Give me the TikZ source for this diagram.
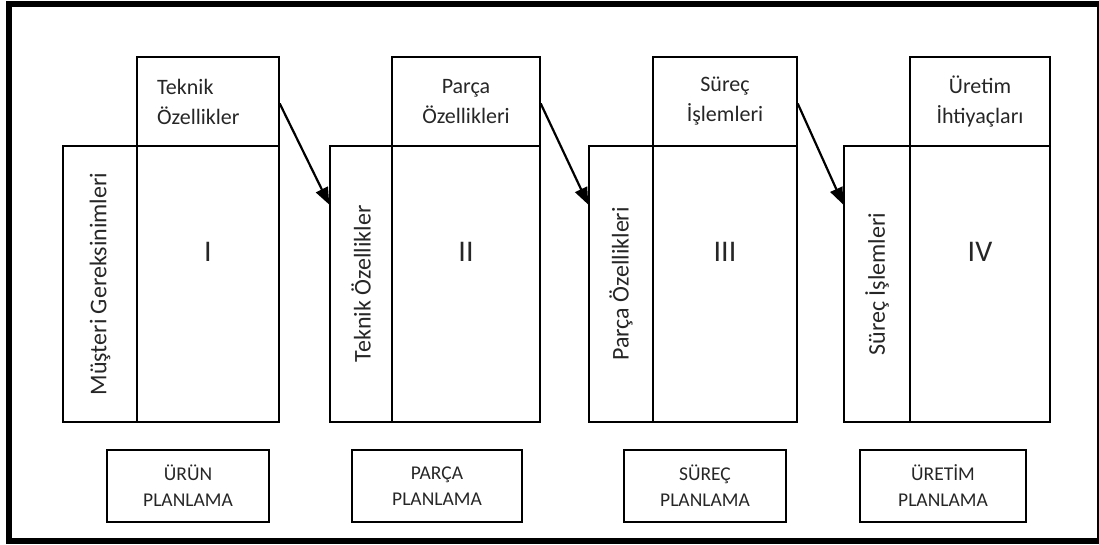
\documentclass[tikz,border=0pt]{standalone}
\usepackage{fontspec}
\setmainfont{Carlito}
\usetikzlibrary{arrows.meta,calc}
\begin{document}
\begin{tikzpicture}[x=1pt,y=-1pt,
  cell/.style={draw, line width=1.4pt, inner sep=0pt, text=black!85},
  headbox/.style={cell, minimum width=#1, minimum height=89pt, align=center,
    font=\fontsize{22}{30}\selectfont},
  sidebox/.style={cell, minimum width=#1, minimum height=276pt},
  mainbox/.style={cell, minimum width=#1, minimum height=276pt},
  sidetext/.style={rotate=90, text=black!85, font=\fontsize{24}{28}\selectfont},
  numeral/.style={text=black!85, font=\fontsize{30}{34}\selectfont},
  stagebox/.style={draw, line width=1.8pt, inner sep=0pt, minimum width=#1,
    minimum height=72pt, align=center, text=black!85,
    font=\fontsize{19.5}{26}\selectfont},
  flow/.style={line width=2.2pt, -{Triangle[length=17pt,width=13pt]}}
]
\useasboundingbox (0,0) rectangle (1099,545);
% outer frame
\draw[line width=6pt] (9,4) rectangle (1100,541);

% stage I
\node[headbox=142pt] (t1) at (208,101.5) {};
\node[align=left, inner sep=0pt, text=black!85, font=\fontsize{22}{30}\selectfont, anchor=west]
  (h1) at (157,101.5) {Teknik\\Özellikler};
\node[sidebox=74pt] (c1) at (100,284) {};
\node[mainbox=142pt] (m1) at (208,284) {};
\node[sidetext] (s1) at (c1.center) {Müşteri Gereksinimleri};
\node[numeral] (n1) at (208,252) {I};

% stage II
\node[headbox=148pt] (t2) at (466,101.5) {Parça\\Özellikleri};
\node[sidebox=62pt] (c2) at (361,284) {};
\node[mainbox=148pt] (m2) at (466,284) {};
\node[sidetext] (s2) at (c2.center) {Teknik Özellikler};
\node[numeral] (n2) at (466,252) {II};

% stage III
\node[headbox=144pt] (t3) at (725,101.5) {Süreç\\İşlemleri};
\node[sidebox=64pt] (c3) at (621,284) {};
\node[mainbox=144pt] (m3) at (725,284) {};
\node[sidetext] (s3) at (c3.center) {Parça Özellikleri};
\node[numeral] (n3) at (725,252) {III};

% stage IV
\node[headbox=140pt] (t4) at (980,101.5) {Üretim\\İhtiyaçları};
\node[sidebox=66pt] (c4) at (877,284) {};
\node[mainbox=140pt] (m4) at (980,284) {};
\node[sidetext] (s4) at (c4.center) {Süreç İşlemleri};
\node[numeral] (n4) at (980,252) {IV};

% planning stages
\node[stagebox=162pt] (p1) at (188,486) {ÜRÜN\\PLANLAMA};
\node[stagebox=170pt] (p2) at (437,486) {PARÇA\\PLANLAMA};
\node[stagebox=162pt] (p3) at (705,486) {SÜREÇ\\PLANLAMA};
\node[stagebox=166pt] (p4) at (943,486) {ÜRETİM\\PLANLAMA};

% outputs of one stage feed the next
\draw[flow] ([yshift=-2pt]t1.east) -- ($(c2.north west)!0.214!(c2.south west)$);
\draw[flow] ([yshift=-2pt]t2.east) -- ($(c3.north west)!0.214!(c3.south west)$);
\draw[flow] ([yshift=-2pt]t3.east) -- ($(c4.north west)!0.214!(c4.south west)$);
\end{tikzpicture}
\end{document}
